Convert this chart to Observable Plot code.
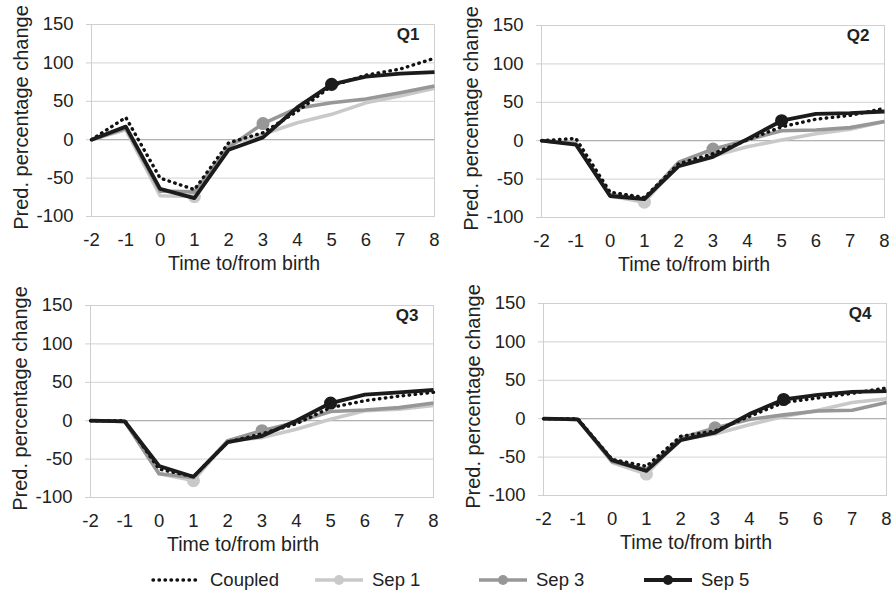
<!DOCTYPE html>
<html>
<head>
<meta charset="utf-8">
<script src="https://cdn.jsdelivr.net/npm/d3@7"></script>
<script src="https://cdn.jsdelivr.net/npm/@observablehq/plot@0.6"></script>
<style>
  body { margin: 0; background: #fff; }
  #chart { position: relative; width: 896px; height: 592px; overflow: hidden; background: #fff; }
  #chart svg { position: absolute; }
</style>
</head>
<body>
<div id="chart"></div>
<script>
// Time relative to birth (years) and axis ticks
const years = [-2, -1, 0, 1, 2, 3, 4, 5, 6, 7, 8];
const yTicks = [-100, -50, 0, 50, 100, 150];
const seriesNames = ["Coupled", "Sep 1", "Sep 3", "Sep 5"];
const panelNames = ["Q1", "Q2", "Q3", "Q4"];
const xTitle = "Time to/from birth";
const yTitle = "Pred. percentage change";

// Predicted percentage change, one array per quartile and group
const q1Coupled = [0, 29, -50, -65, -4, 9, 37, 70, 84, 92, 106];
const q1Sep1    = [0, 13, -73, -74, -6, 7, 22, 33, 48, 57, 67];
const q1Sep3    = [0, 15, -67, -68, -10, 21, 41, 48, 53, 61, 70];
const q1Sep5    = [0, 17, -64, -76, -13, 3, 42, 72, 82, 86, 88];

const q2Coupled = [0, 3, -67, -74, -30, -17, 1, 18, 28, 33, 42];
const q2Sep1    = [0, -3, -72, -80, -30, -20, -8, 1, 9, 15, 25];
const q2Sep3    = [0, -4, -70, -76, -28, -11, 1, 13, 14, 17, 25];
const q2Sep5    = [0, -5, -72, -76, -33, -21, 2, 26, 35, 36, 38];

const q3Coupled = [0, 0, -63, -73, -28, -17, -4, 17, 26, 32, 37];
const q3Sep1    = [0, -1, -69, -78, -26, -22, -11, 2, 13, 15, 20];
const q3Sep3    = [0, -1, -69, -74, -26, -13, -2, 12, 14, 17, 23];
const q3Sep5    = [0, -1, -59, -73, -28, -20, 0, 23, 34, 37, 40];

const q4Coupled = [0, 0, -53, -62, -23, -16, 3, 21, 27, 33, 40];
const q4Sep1    = [0, -1, -57, -72, -27, -20, -8, 3, 11, 21, 26];
const q4Sep3    = [0, -1, -56, -66, -25, -12, -1, 5, 10, 11, 21];
const q4Sep5    = [0, -1, -54, -68, -28, -18, 6, 25, 31, 35, 36];

const panelSeries = [
  [q1Coupled, q1Sep1, q1Sep3, q1Sep5],
  [q2Coupled, q2Sep1, q2Sep3, q2Sep5],
  [q3Coupled, q3Sep1, q3Sep3, q3Sep5],
  [q4Coupled, q4Sep1, q4Sep3, q4Sep5]
];

// Styling of each group: colour, dash pattern and the year that carries a marker
const styles = {
  "Coupled": {stroke: "#111", width: 3.4, dash: "0.5,5.5", cap: "round", marker: null},
  "Sep 1":   {stroke: "#c9c9c9", width: 3.6, dash: null, cap: "butt", marker: 1},
  "Sep 3":   {stroke: "#979797", width: 3.6, dash: null, cap: "butt", marker: 3},
  "Sep 5":   {stroke: "#1b1b1b", width: 3.8, dash: null, cap: "butt", marker: 5}
};
const drawOrder = ["Sep 1", "Sep 3", "Coupled", "Sep 5"];

const FONT = "'Liberation Sans', Arial, Helvetica, sans-serif";
const placement = [
  {left: 0, top: 0},
  {left: 450, top: 1},
  {left: -1, top: 281},
  {left: 452, top: 279}
];

const fmt = d => String(d);
const chart = document.getElementById("chart");

panelNames.forEach((name, p) => {
  const rows = [];
  seriesNames.forEach((s, k) => {
    panelSeries[p][k].forEach((v, i) => rows.push({series: s, t: years[i], v}));
  });

  const marks = [
    Plot.gridY(yTicks, {stroke: "#d2d2d2", strokeOpacity: 1, strokeWidth: 1}),
    Plot.ruleY([0], {stroke: "#a8a8a8", strokeWidth: 1}),
    Plot.frame({stroke: "#cfcfcf", strokeWidth: 1}),
    Plot.axisY(yTicks, {tickSize: 5, tickPadding: 13, stroke: "#cfcfcf", fill: "#222",
      fontSize: 18.5, tickFormat: fmt, label: null}),
    Plot.axisX(years, {tickSize: 0, tickPadding: 16, fill: "#222", fontSize: 18.5,
      tickFormat: fmt, label: null})
  ];

  drawOrder.forEach(s => {
    const st = styles[s];
    const d = rows.filter(r => r.series === s);
    marks.push(Plot.line(d, {
      x: "t", y: "v",
      stroke: st.stroke, strokeWidth: st.width,
      strokeDasharray: st.dash, strokeLinecap: st.cap, strokeLinejoin: "round"
    }));
    if (st.marker !== null) {
      marks.push(Plot.dot(d.filter(r => r.t === st.marker), {
        x: "t", y: "v", r: 5.8, fill: st.stroke, stroke: st.stroke
      }));
    }
  });

  marks.push(
    Plot.text([name], {frameAnchor: "top-right", textAnchor: "end", lineAnchor: "middle",
      dx: -15, dy: 10, fontWeight: "bold", fontSize: 17, fill: "#222"}),
    Plot.text([xTitle], {frameAnchor: "bottom", lineAnchor: "middle", dx: -19, dy: 47,
      fontSize: 19.5, fill: "#222"}),
    Plot.text([yTitle], {frameAnchor: "left", rotate: -90, lineAnchor: "middle", textAnchor: "middle",
      dx: -70, dy: -3, fontSize: 20, fill: "#222"})
  );

  const svg = Plot.plot({
    width: 448,
    height: 280,
    marginLeft: 91,
    marginRight: 14,
    marginTop: 24,
    marginBottom: 64,
    style: {fontFamily: FONT, fontSize: "18px", color: "#222", background: "transparent", overflow: "visible"},
    x: {domain: [-2, 8]},
    y: {domain: [-100, 150]},
    marks
  });
  svg.style.left = placement[p].left + "px";
  svg.style.top = placement[p].top + "px";
  chart.appendChild(svg);
});

// Legend along the bottom
const legendX = [153, 315, 479, 644];
const legend = d3.select(chart).append("svg")
  .attr("width", 896).attr("height", 30)
  .style("left", "0px").style("top", "565px")
  .style("font-family", FONT);
seriesNames.forEach((s, i) => {
  const st = styles[s];
  const g = legend.append("g").attr("transform", `translate(${legendX[i]},15)`);
  g.append("line").attr("x1", 0).attr("x2", 48).attr("y1", 0).attr("y2", 0)
    .attr("stroke", st.stroke).attr("stroke-width", st.width)
    .attr("stroke-dasharray", st.dash).attr("stroke-linecap", st.cap);
  if (st.marker !== null) {
    g.append("circle").attr("cx", 24).attr("cy", 0).attr("r", 5).attr("fill", st.stroke);
  }
  g.append("text").attr("x", 57).attr("y", 0).attr("dy", "0.35em")
    .attr("font-size", 18.5).attr("fill", "#222").text(s);
});
</script>
</body>
</html>
